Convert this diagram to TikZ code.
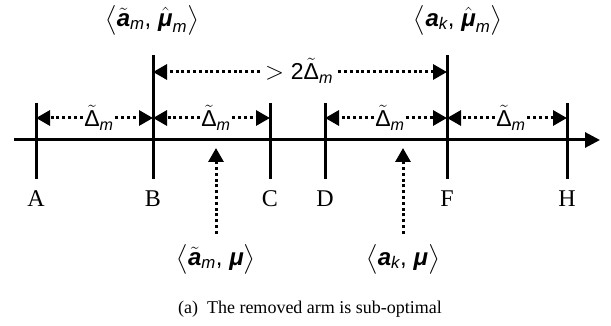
\documentclass[tikz,border=0pt]{standalone}
\usepackage{amsmath}
\usepackage{fontspec}
\setmainfont{Liberation Serif}
\newfontfamily\sfm{Liberation Sans}
\usetikzlibrary{arrows.meta}
\newcommand\bsi[1]{\text{\sfm\bfseries\itshape #1}}
\newcommand\isf[1]{\text{\sfm\itshape #1}}
\newcommand\usf[1]{\text{\sfm #1}}
\newcommand\dm{\tilde{\usf{Δ}}_{\isf{m}}}
\tikzset{
  axisline/.style={line width=3pt,-{Triangle[length=15pt,width=15pt]}},
  tickline/.style={line width=3pt},
  darr/.style={line width=3pt,dash pattern=on 3pt off 2.8pt,-{Triangle[length=14pt,width=15pt]}},
  letter/.style={font=\fontsize{24}{28}\selectfont,inner sep=0pt},
  mlab/.style={font=\fontsize{24}{28}\selectfont,inner sep=0pt},
  dlab/.style={font=\fontsize{23}{27}\selectfont,inner sep=1.5pt,anchor=base},
}
\begin{document}
\begin{tikzpicture}[x=1pt,y=-1pt]
\useasboundingbox (0,0) rectangle (611,326);
% axis
\coordinate (ax0) at (14,140);
\coordinate (ax1) at (600,140);
\draw[axisline] (ax0) -- (ax1);
% ticks
\foreach \n/\x/\t in {A/36/103,B/153/55,C/270/103,D/325/103,F/447/55,H/567/103}{
  \coordinate (\n t) at (\x,\t);
  \coordinate (\n b) at (\x,179);
  \coordinate (\n m) at (\x,118);
  \draw[tickline] (\n t) -- (\n b);
  \node[letter] (l\n) at (\x,198.5) {\n};
}
% delta arrows
\node[dlab] (d1) at (99,127) {$\dm$};
\node[dlab] (d2) at (216,127) {$\dm$};
\node[dlab] (d3) at (390,127) {$\dm$};
\node[dlab] (d4) at (511,127) {$\dm$};
\foreach \d/\l/\r in {d1/A/B,d2/B/C,d3/D/F,d4/F/H}{
  \draw[darr] (\d.west |- \l m) -- (\l m);
  \draw[darr] (\d.east |- \r m) -- (\r m);
}
% top arrow
\coordinate (Bk) at (153,72);
\coordinate (Fk) at (447,72);
\node[dlab,inner sep=5pt] (gap) at (299,80) {$> \usf{2}\tilde{\usf{Δ}}_{\isf{m}}$};
\draw[darr] (gap.west |- Bk) -- (Bk);
\draw[darr] (gap.east |- Fk) -- (Fk);
% top labels
\node[mlab] (t1) at (152,20) {$\bigl\langle \tilde{\bsi{a}}_{\isf{m}}\usf{,}\; \hat{\bsi{μ}}_{\isf{m}} \bigr\rangle$};
\node[mlab] (t2) at (458,20) {$\bigl\langle \bsi{a}_{\isf{k}}\usf{,}\; \hat{\bsi{μ}}_{\isf{m}} \bigr\rangle$};
% bottom labels and arrows
\node[mlab] (b1) at (216,259) {$\bigl\langle \tilde{\bsi{a}}_{\isf{m}}\usf{,}\; \bsi{μ} \bigr\rangle$};
\node[mlab] (b2) at (403,259) {$\bigl\langle \bsi{a}_{\isf{k}}\usf{,}\; \bsi{μ} \bigr\rangle$};
\coordinate (u1) at (216,148);
\coordinate (u2) at (403,148);
\draw[darr,shorten <=10pt] (b1.north) -- (u1);
\draw[darr,shorten <=10pt] (b2.north) -- (u2);
% caption
\node[font=\fontsize{18}{21}\selectfont] (cap) at (310,309) {(a)\ \ The removed arm is sub-optimal};
\end{tikzpicture}
\end{document}
